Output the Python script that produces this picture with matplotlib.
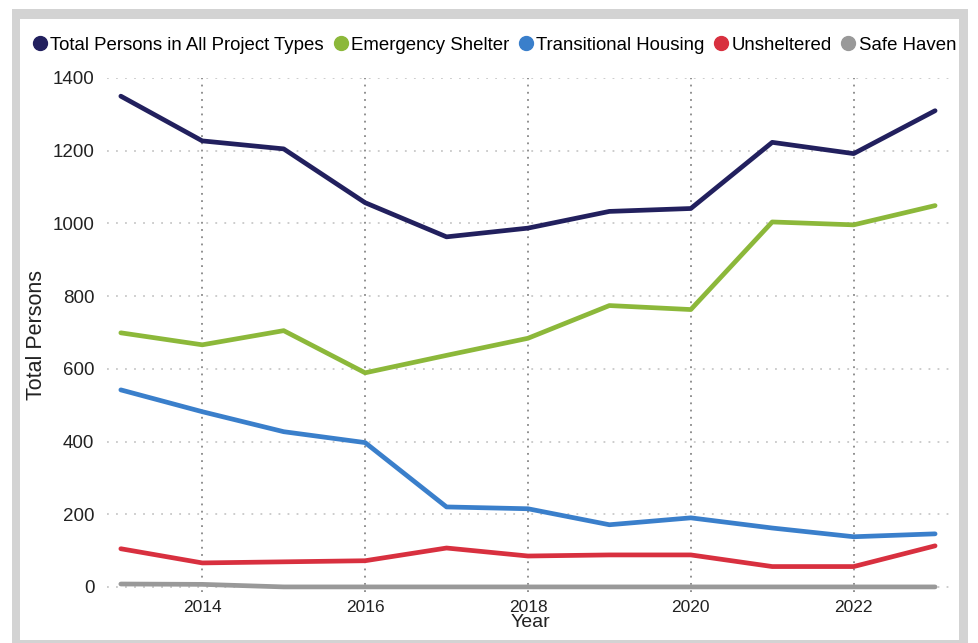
import matplotlib
matplotlib.use('Agg')
import matplotlib.pyplot as plt
from matplotlib.patches import Rectangle
from matplotlib.lines import Line2D

plt.rcParams['font.family'] = ['Liberation Sans', 'DejaVu Sans']

years = list(range(2013, 2024))
total = [1350, 1227, 1205, 1057, 963, 987, 1033, 1041, 1223, 1192, 1310]
emergency = [699, 666, 705, 589, 637, 684, 774, 763, 1004, 996, 1049]
transitional = [542, 482, 427, 397, 220, 215, 171, 190, 162, 138, 146]
unsheltered = [105, 66, 69, 72, 107, 85, 88, 88, 56, 56, 113]
safe_haven = [8, 7, 0, 0, 0, 0, 0, 0, 0, 0, 0]

series_names = ['Total Persons in All Project Types', 'Emergency Shelter',
                'Transitional Housing', 'Unsheltered', 'Safe Haven']
series_vals = [total, emergency, transitional, unsheltered, safe_haven]
colors = ['#22205e', '#8cb83a', '#3a7fcb', '#d8303f', '#999999']

W, H = 979, 643
fig = plt.figure(figsize=(W / 100, H / 100), dpi=100)

# gray frame and white panel behind the axes
fig.patches.append(Rectangle((12 / W, 0), 956 / W, (H - 9) / H, transform=fig.transFigure,
                             facecolor='#d3d3d3', edgecolor='none', zorder=-2))
fig.patches.append(Rectangle((20 / W, 3 / H), 939 / W, (H - 22) / H, transform=fig.transFigure,
                             facecolor='white', edgecolor='none', zorder=-1))

ax = fig.add_axes([107 / W, 1 - 592 / H, (953 - 107) / W, (592 - 78) / H])
ax.set_facecolor('none')

for vals, c in zip(series_vals, colors):
    ax.plot(years, vals, color=c, lw=3.4, solid_capstyle='round', solid_joinstyle='round', zorder=3)

ax.set_xlim(2012.83, 2023.22)
ax.set_ylim(-14, 1400)
ax.set_xticks([2014, 2016, 2018, 2020, 2022])
ax.set_yticks(range(0, 1401, 200))
ax.tick_params(axis='x', length=0, labelsize=12.5, colors='#222222', pad=6)
ax.tick_params(axis='y', length=0, labelsize=13.5, colors='#222222', pad=9)
for s in ax.spines.values():
    s.set_visible(False)

ax.grid(axis='y', color='#c8c8c8', linestyle=(0, (1, 4)), lw=1.3)
ax.grid(axis='x', color='#888888', linestyle=(0, (1, 3)), lw=1.3)

ax.set_xlabel('Year', fontsize=14, color='#222222', labelpad=-1)
ax.set_ylabel('Total Persons', fontsize=15.5, color='#222222')
ax.yaxis.set_label_coords(-0.071, 0.5)

handles = [Line2D([], [], marker='o', ls='none', color=c, markersize=10) for c in colors]
fig.legend(handles, series_names, loc='center', bbox_to_anchor=(493 / W, 1 - 45 / H),
           ncol=5, frameon=False, fontsize=13.4, handletextpad=0.0, columnspacing=0.35,
           handlelength=1.1, borderaxespad=0)

fig.savefig('out.png', dpi=100)
